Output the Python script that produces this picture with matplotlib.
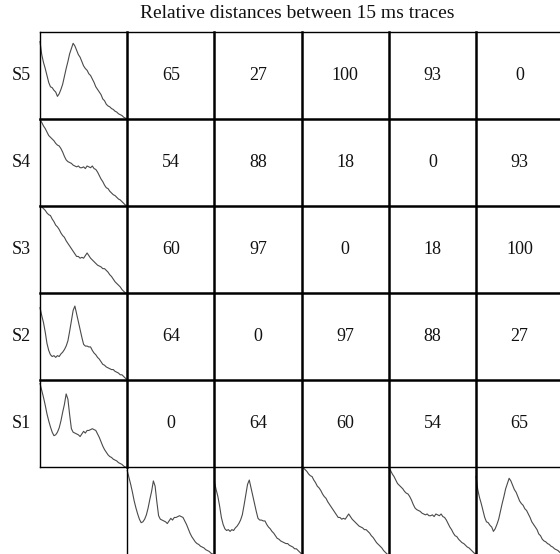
import matplotlib
matplotlib.use("Agg")
import matplotlib.pyplot as plt
import numpy as np

plt.rcParams['font.family'] = ['Liberation Serif', 'DejaVu Serif']

title = "Relative distances between 15 ms traces"
row_labels = ["S5", "S4", "S3", "S2", "S1"]
col_labels = ["S1", "S2", "S3", "S4", "S5"]

# distance matrix: rows S5..S1 (top to bottom), columns S1..S5
distances = [
    [65, 27, 100, 93, 0],
    [54, 88, 18, 0, 93],
    [60, 97, 0, 18, 100],
    [64, 0, 97, 88, 27],
    [0, 64, 60, 54, 65],
]

# trace shapes (fraction of cell), common x grid
trace_x = [i * 0.02 for i in range(51)]
trace_S1 = [.96, .88, .80, .71, .61, .53, .46, .40, .36, .37, .40, .45, .53, .63, .72, .84,
            .78, .60, .44, .40, .39, .38, .37, .35, .38, .41, .39, .42, .42, .43, .44, .43,
            .42, .38, .34, .29, .24, .20, .17, .14, .12, .11, .09, .08, .07, .05, .04, .03,
            .01, .00, -.01]
trace_S2 = [.83, .74, .66, .55, .42, .34, .29, .27, .28, .26, .28, .27, .30, .32, .35, .39,
            .45, .56, .68, .80, .85, .76, .67, .58, .49, .41, .39, .39, .38, .38, .34, .31,
            .29, .26, .24, .21, .18, .17, .15, .14, .13, .12, .12, .10, .09, .08, .06, .06,
            .04, .02, .00]
trace_S3 = [1.0, .99, .97, .95, .92, .90, .89, .85, .82, .78, .76, .73, .69, .66, .64, .60,
            .57, .54, .51, .48, .45, .42, .42, .40, .41, .40, .43, .46, .43, .40, .38, .36,
            .34, .32, .31, .30, .28, .28, .26, .24, .21, .19, .16, .13, .11, .09, .07, .04,
            .02, .00, -.01]
trace_S4 = [.99, .96, .92, .89, .85, .81, .79, .77, .75, .72, .70, .69, .66, .62, .57, .53,
            .51, .50, .49, .47, .46, .45, .46, .44, .44, .45, .43, .46, .45, .44, .46, .43,
            .42, .39, .35, .31, .28, .24, .21, .20, .17, .15, .13, .12, .10, .08, .07, .05,
            .03, .01, .00]
trace_S5 = [.89, .74, .65, .58, .50, .42, .37, .36, .33, .31, .26, .29, .34, .40, .49, .58,
            .66, .75, .81, .87, .84, .79, .74, .71, .66, .61, .58, .56, .52, .50, .46, .42,
            .37, .34, .31, .28, .23, .21, .17, .15, .14, .12, .11, .09, .08, .06, .05, .04,
            .02, .01, .00]
traces = {"S1": trace_S1, "S2": trace_S2, "S3": trace_S3, "S4": trace_S4, "S5": trace_S5}

W, H = 560, 554
fig = plt.figure(figsize=(W / 100, H / 100), dpi=100)
cell_px = 87.2
ax = fig.add_axes([40 / W, 0, 520 / W, 522 / H])
ax.set_xlim(0, 520 / cell_px)
ax.set_ylim(0, 6)
ax.axis('off')

n = 5
tx = np.array(trace_x)
trace_color = '#4a4a4a'
# left column traces
for i, lab in enumerate(row_labels):
    row = n - i  # S5 at row 5
    ax.plot(tx, row + np.array(traces[lab]), color=trace_color, lw=0.8, clip_on=False)
# bottom row traces
for j, lab in enumerate(col_labels):
    ax.plot(1 + j + tx, np.array(traces[lab]), color=trace_color, lw=0.8, clip_on=False)

# grid lines
thin, thick = 1.0, 1.8
ax.plot([0, 6], [6, 6], color='black', lw=thin, clip_on=False)          # top
ax.plot([0, 6], [1, 1], color='black', lw=thin, clip_on=False)          # above bottom row
for r in range(2, 6):
    ax.plot([0, 6], [r, r], color='black', lw=thick, clip_on=False)
ax.plot([0, 0], [1, 6], color='black', lw=thin, clip_on=False)          # left border
ax.plot([1, 1], [1, 6], color='black', lw=thick, clip_on=False)
ax.plot([1, 1], [0, 1], color='black', lw=thin, clip_on=False)
for c in range(2, 6):
    ax.plot([c, c], [0, 6], color='black', lw=thick, clip_on=False)

# numbers
for i in range(n):
    row = n - i
    for j in range(n):
        ax.text(1 + j + 0.5, row + 0.5, str(distances[i][j]), ha='center', va='center',
                fontsize=13, color='#111111')
    ax.text(-0.21, row + 0.5, row_labels[i], ha='center', va='center', fontsize=13,
            color='#111111')

fig.text(297 / W, 1 - 14 / H, title, ha='center', va='center', fontsize=14, color='#111111')

fig.savefig("out.png", dpi=100)
